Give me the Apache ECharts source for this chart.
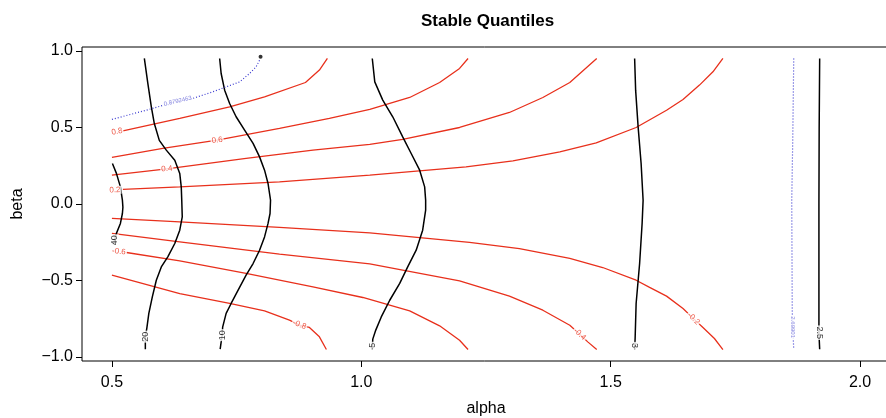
<!DOCTYPE html>
<html>
<head>
<meta charset="utf-8">
<title>Stable Quantiles</title>
<script src="https://cdn.jsdelivr.net/npm/echarts@6/dist/echarts.min.js"></script>
<style>
  html, body { margin: 0; padding: 0; background: #fff; }
  #main { width: 886px; height: 418px; }
</style>
</head>
<body>
<div id="main"></div>
<script>
// Axis ticks
const alphaTicks = [0.5, 1.0, 1.5, 2.0];
const betaTicks = [-1.0, -0.5, 0.0, 0.5, 1.0];

// Quantile contours (black), as [alpha, beta] pairs
const quantile40 = [[0.501,0.264],[0.509,0.199],[0.517,0.111],[0.521,0.024],[0.522,-0.022],[0.521,-0.063],[0.517,-0.128],[0.509,-0.193],[0.503,-0.265]];
const quantile20 = [[0.565,0.950],[0.572,0.787],[0.579,0.634],[0.585,0.525],[0.595,0.415],[0.609,0.351],[0.626,0.285],[0.636,0.199],[0.639,0.111],[0.640,0.024],[0.641,-0.085],[0.636,-0.172],[0.626,-0.259],[0.612,-0.346],[0.599,-0.412],[0.589,-0.499],[0.581,-0.608],[0.574,-0.716],[0.570,-0.812],[0.567,-0.871],[0.567,-0.950]];
const quantile10 = [[0.716,0.950],[0.719,0.852],[0.726,0.743],[0.736,0.656],[0.749,0.569],[0.766,0.482],[0.783,0.395],[0.796,0.307],[0.806,0.220],[0.813,0.133],[0.818,0.024],[0.817,-0.063],[0.813,-0.128],[0.806,-0.216],[0.796,-0.303],[0.783,-0.390],[0.769,-0.466],[0.753,-0.564],[0.739,-0.651],[0.729,-0.716],[0.722,-0.806],[0.721,-0.858],[0.717,-0.950]];
const quantile5 = [[1.022,0.950],[1.027,0.797],[1.043,0.678],[1.063,0.569],[1.083,0.438],[1.100,0.329],[1.117,0.220],[1.127,0.111],[1.129,0.024],[1.129,-0.041],[1.123,-0.172],[1.110,-0.303],[1.093,-0.412],[1.077,-0.520],[1.057,-0.630],[1.040,-0.739],[1.029,-0.825],[1.023,-0.884],[1.022,-0.950]];
const quantile3 = [[1.548,0.950],[1.550,0.743],[1.555,0.503],[1.561,0.264],[1.565,0.024],[1.563,-0.128],[1.558,-0.390],[1.551,-0.651],[1.549,-0.878],[1.548,-0.950]];
const quantile25 = [[1.919,0.950],[1.918,0.500],[1.9175,0.000],[1.9175,-0.500],[1.9175,-0.842],[1.919,-0.950]];

// Boundary contours (blue, dotted)
const boundaryLow = [[0.500,0.552],[0.569,0.612],[0.632,0.671],[0.662,0.689],[0.702,0.732],[0.756,0.797],[0.776,0.852],[0.789,0.895],[0.796,0.939]];
const boundaryHigh = [[1.867,0.950],[1.865,0.416],[1.863,0.024],[1.864,-0.696],[1.865,-0.806],[1.867,-0.950]];
const boundaryPoint = [[0.798, 0.961]];

// Skewness contours (red)
const level08 = [[0.522,0.477],[0.636,0.558],[0.736,0.634],[0.806,0.699],[0.888,0.793],[0.916,0.874],[0.932,0.950]];
const level06 = [[0.500,0.303],[0.602,0.362],[0.711,0.416],[0.836,0.493],[0.936,0.558],[1.017,0.617],[1.097,0.695],[1.157,0.793],[1.197,0.885],[1.214,0.950]];
const level04 = [[0.500,0.188],[0.610,0.229],[0.769,0.297],[0.903,0.351],[1.017,0.388],[1.083,0.421],[1.197,0.499],[1.297,0.597],[1.364,0.695],[1.418,0.793],[1.472,0.950]];
const level02 = [[0.522,0.094],[0.636,0.111],[0.836,0.144],[1.017,0.188],[1.210,0.242],[1.304,0.281],[1.398,0.340],[1.471,0.399],[1.551,0.499],[1.612,0.612],[1.645,0.682],[1.678,0.776],[1.705,0.863],[1.725,0.950]];
const levelM02 = [[0.500,-0.095],[0.636,-0.118],[0.836,-0.154],[1.017,-0.190],[1.217,-0.252],[1.317,-0.292],[1.418,-0.357],[1.484,-0.416],[1.551,-0.499],[1.578,-0.546],[1.612,-0.603],[1.645,-0.684],[1.666,-0.750],[1.685,-0.808],[1.708,-0.880],[1.725,-0.952]];
const levelM04 = [[0.500,-0.193],[0.636,-0.248],[0.836,-0.329],[1.017,-0.392],[1.083,-0.433],[1.197,-0.503],[1.297,-0.603],[1.364,-0.695],[1.418,-0.793],[1.438,-0.852],[1.454,-0.902],[1.472,-0.952]];
const levelM06 = [[0.529,-0.318],[0.636,-0.373],[0.769,-0.455],[0.903,-0.542],[1.003,-0.612],[1.097,-0.699],[1.157,-0.797],[1.197,-0.891],[1.214,-0.952]];
const levelM08 = [[0.500,-0.466],[0.636,-0.586],[0.736,-0.651],[0.806,-0.699],[0.856,-0.760],[0.876,-0.793],[0.896,-0.808],[0.916,-0.869],[0.930,-0.952]];

// Contour labels: [alpha, beta, text, angle]
const quantileLabels = [
  [0.505,-0.238,'40',90],[0.567,-0.868,'20',90],[0.721,-0.858,'10',90],
  [1.022,-0.924,'5',90],[1.548,-0.925,'3',-90],[1.918,-0.842,'2.5',-90]
];
const boundaryLabels = [[0.632,0.671,'0.8792463',13],[1.865,-0.806,'2.69901',-90]];
const levelLabels = [
  [0.510,0.472,'0.8',11],[0.711,0.416,'0.6',7],[0.610,0.229,'0.4',6],[0.506,0.090,'0.2',2],
  [1.666,-0.750,'-0.2',-44],[1.438,-0.852,'-0.4',-42],[0.514,-0.312,'-0.6',-6],[0.876,-0.790,'-0.8',-20]
];

const FONT = 'Liberation Sans, Arial, Helvetica, sans-serif';
const BLACK = '#000000';
const RED = '#e8301c';
const BLUE = '#3a3ad0';

function contour(data, color, width, type) {
  return {
    type: 'line', data: data, showSymbol: false, symbol: 'none', smooth: false,
    lineStyle: { color: color, width: width, type: type || 'solid' },
    silent: true, z: 2
  };
}

function labelSeries(list, color, size) {
  return {
    type: 'scatter', z: 5, symbolSize: 1, silent: true,
    itemStyle: { color: 'rgba(0,0,0,0)' },
    data: list.map(function (d) {
      return {
        value: [d[0], d[1]], name: d[2],
        label: {
          show: true, position: 'inside', formatter: '{b}', rotate: d[3],
          color: color, fontSize: size, fontFamily: FONT,
          backgroundColor: '#ffffff', padding: [0, 1]
        }
      };
    })
  };
}

const chart = echarts.init(document.getElementById('main'), null, { renderer: 'canvas' });
chart.setOption({
  animation: false,
  backgroundColor: '#ffffff',
  title: {
    text: 'Stable Quantiles', left: 416, top: 8,
    textStyle: { fontSize: 17, fontWeight: 'bold', color: '#000', fontFamily: FONT }
  },
  grid: {
    left: 82, right: -4, top: 47, bottom: 57, outerBoundsMode: 'none', containLabel: false,
    show: true, borderColor: '#000', borderWidth: 1, backgroundColor: 'transparent'
  },
  xAxis: {
    type: 'value', min: 0.44, max: 2.06,
    name: 'alpha', nameLocation: 'middle', nameGap: 40,
    nameTextStyle: { fontSize: 16, color: '#000', fontFamily: FONT },
    axisLine: { show: false, onZero: false }, splitLine: { show: false },
    axisTick: { show: true, customValues: alphaTicks, length: 6, lineStyle: { color: '#000' } },
    axisLabel: { customValues: alphaTicks, margin: 14, fontSize: 16, color: '#000', fontFamily: FONT,
      formatter: function (v) { return v.toFixed(1); } }
  },
  yAxis: {
    type: 'value', min: -1.027, max: 1.025,
    name: 'beta', nameLocation: 'middle', nameGap: 56, nameRotate: 90,
    nameTextStyle: { fontSize: 16, color: '#000', fontFamily: FONT },
    axisLine: { show: false, onZero: false }, splitLine: { show: false },
    axisTick: { show: true, customValues: betaTicks, length: 6, lineStyle: { color: '#000' } },
    axisLabel: { customValues: betaTicks, margin: 9, fontSize: 16, color: '#000', fontFamily: FONT,
      formatter: function (v) { return (v < 0 ? '\u2212' : '') + Math.abs(v).toFixed(1); } }
  },
  series: [
    contour(level08, RED, 1.3), contour(level06, RED, 1.3), contour(level04, RED, 1.3), contour(level02, RED, 1.3),
    contour(levelM02, RED, 1.3), contour(levelM04, RED, 1.3), contour(levelM06, RED, 1.3), contour(levelM08, RED, 1.3),
    contour(quantile40, BLACK, 1.5), contour(quantile20, BLACK, 1.5), contour(quantile10, BLACK, 1.5),
    contour(quantile5, BLACK, 1.5), contour(quantile3, BLACK, 1.5), contour(quantile25, BLACK, 1.5),
    contour(boundaryLow, BLUE, 1.2, [1, 2]), contour(boundaryHigh, BLUE, 1.2, [1, 2]),
    { type: 'scatter', data: boundaryPoint, symbol: 'circle', symbolSize: 4, itemStyle: { color: '#000' }, silent: true, z: 3 },
    labelSeries(levelLabels, RED, 8),
    labelSeries(quantileLabels, BLACK, 9),
    labelSeries(boundaryLabels, '#6a6ad8', 6)
  ]
});
</script>
</body>
</html>
